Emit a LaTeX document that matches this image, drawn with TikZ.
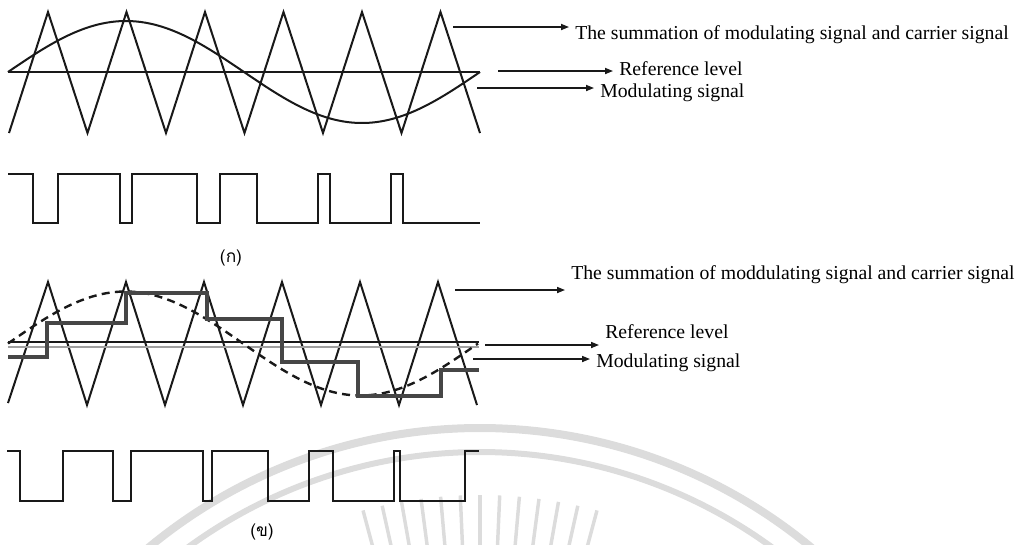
\documentclass[tikz,border=0pt]{standalone}
\usepackage{fontspec}
\setmainfont{Liberation Serif}
\newfontfamily\thaifont[Script=Thai]{Loma}
\usetikzlibrary{arrows.meta,calc}
\definecolor{wvink}{RGB}{25,25,25}
\definecolor{wvhold}{RGB}{70,70,70}
\definecolor{wvband}{RGB}{160,160,160}
\definecolor{wvseal}{RGB}{220,220,220}
\tikzset{
  wave/.style={draw=wvink, line width=1.5pt, line join=miter},
  sine/.style={draw=wvink, line width=1.5pt},
  dsine/.style={sine, line width=1.8pt, dash pattern=on 6pt off 4pt},
  refln/.style={draw=wvink, line width=1.3pt},
  refband/.style={draw=wvband, line width=2.2pt},
  hold/.style={draw=wvhold, line width=2.5pt},
  pwm/.style={draw=wvink, line width=1.4pt, line join=miter},
  seal/.style={draw=wvseal},
  arr/.style={-{Triangle[length=2.1mm,width=1.6mm]}, draw=wvink, line width=1.1pt},
  lbl/.style={font=\fontsize{14.8}{17}\selectfont, inner xsep=4.5pt, inner ysep=0pt, anchor=base west},
  sublbl/.style={font=\thaifont\fontsize{13}{15}\selectfont, inner sep=0pt}
}

\begin{document}
\begin{tikzpicture}[x=0.75pt, y=-0.75pt]
  \useasboundingbox (0,0) rectangle (1024,544);

  % faint seal in the back
  \coordinate (sealC) at (480,947);
  \draw[seal, line width=6pt] (sealC) ++(215:519) arc[start angle=215, end angle=325, radius=519];
  \draw[seal, line width=4.5pt] (sealC) ++(215:495) arc[start angle=215, end angle=325, radius=495];
  \foreach \a in {255,257.5,...,285}
    \draw[seal, line width=2.6pt] ($(sealC)+(\a:398)$) -- ($(sealC)+(\a:452)$);

  % (a) natural sampling
  \draw[wave] (9,133) foreach \k in {0,...,5} { -- ({48+78.5*\k},12) -- ({87.5+78.5*\k},133) };
  \draw[refln] (8,72) -- (480,72);
  \draw[sine] plot[domain=8:480, samples=90, smooth] (\x,{72-51*sin((\x-8)/472*360)});
  \draw[pwm] (8,174) -- (33,174) -- (33,223) -- (58,223) -- (58,174) -- (120,174)
    -- (120,223) -- (132,223) -- (132,174) -- (197,174) -- (197,223) -- (220,223)
    -- (220,174) -- (257,174) -- (257,223) -- (318,223) -- (318,174) -- (330,174)
    -- (330,223) -- (391,223) -- (391,174) -- (403,174) -- (403,223) -- (480,223);
  \node[sublbl] (subA) at (231,258) {(ก)};

  \coordinate (sumA) at (453,27);
  \coordinate (refA) at (498,71);
  \coordinate (modA) at (477,88);
  \node[lbl] (sumAtxt) at (569,39) {The summation of modulating signal and carrier signal};
  \node[lbl] (refAtxt) at (613,75) {Reference level};
  \node[lbl] (modAtxt) at (594,97) {Modulating signal};
  \draw[arr] (sumA) -- (sumA -| sumAtxt.west);
  \draw[arr] (refA) -- (refA -| refAtxt.west);
  \draw[arr] (modA) -- (modA -| modAtxt.west);

  % (b) sample and hold
  \draw[wave] (8,403) foreach \k in {0,...,5} { -- ({48+78*\k},282) -- ({87+78*\k},405) };
  \draw[refband] (8,347) -- (479,347);
  \draw[refln, line width=0.9pt] (8,342) -- (479,342);
  \draw[dsine] plot[domain=8:478, samples=90, smooth] (\x,{343.5-52*sin((\x-8)/470*360)});
  \draw[hold] (8,357) -- (47,357) -- (47,323) -- (126,323) -- (126,293) -- (207,293)
    -- (207,319) -- (282,319) -- (282,362) -- (358,362) -- (358,396) -- (441,396)
    -- (441,370) -- (479,370);
  \draw[pwm] (7,451) -- (20,451) -- (20,501) -- (63,501) -- (63,451) -- (113,451)
    -- (113,501) -- (131,501) -- (131,451) -- (203,451) -- (203,501) -- (212,501)
    -- (212,451) -- (268,451) -- (268,501) -- (309,501) -- (309,451) -- (333,451)
    -- (333,501) -- (394,501) -- (394,451) -- (400,451) -- (400,501) -- (465,501)
    -- (465,451) -- (479,451);
  \node[sublbl] (subB) at (262,532) {(ข)};

  \coordinate (sumB) at (455,290);
  \coordinate (refB) at (485,345);
  \coordinate (modB) at (473,359);
  \node[lbl] (sumBtxt) at (565,279) {The summation of moddulating signal and carrier signal};
  \node[lbl] (refBtxt) at (599,338) {Reference level};
  \node[lbl] (modBtxt) at (590,367) {Modulating signal};
  \draw[arr] (sumB) -- (sumB -| sumBtxt.west);
  \draw[arr] (refB) -- (refB -| refBtxt.west);
  \draw[arr] (modB) -- (modB -| modBtxt.west);
\end{tikzpicture}
\end{document}
